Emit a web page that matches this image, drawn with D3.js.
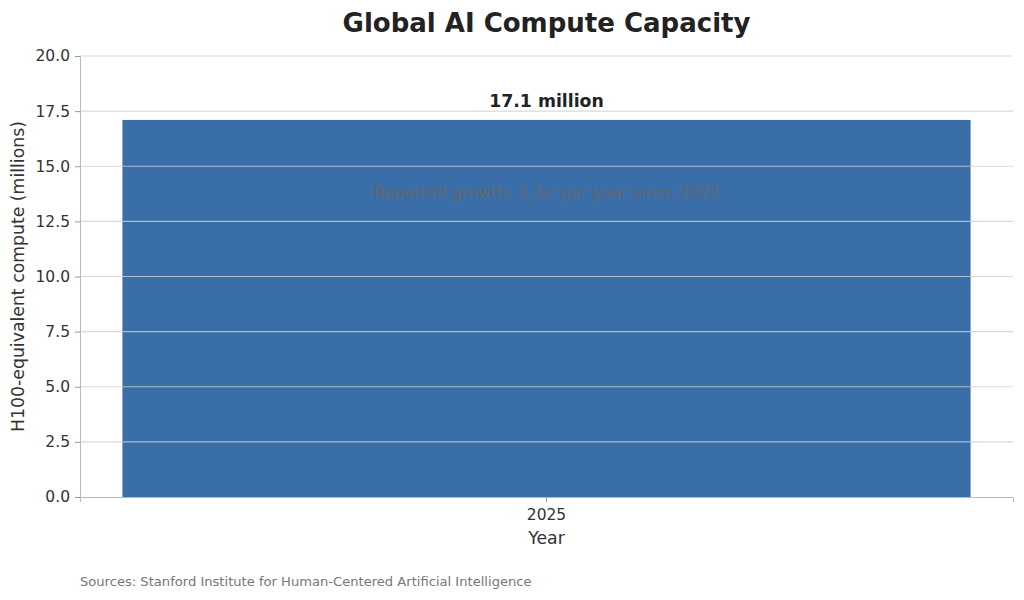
<!DOCTYPE html>
<html>
<head>
<meta charset="utf-8">
<script src="https://cdn.jsdelivr.net/npm/d3@7"></script>
<style>
  body { margin: 0; background: #fff; }
  text { font-family: "DejaVu Sans", sans-serif; }
</style>
</head>
<body>
<svg id="chart" width="1024" height="600"></svg>
<script>
// data
const years = ["2025"];
const computeMillions = [17.1];
const valueLabels = ["17.1 million"];
const yTicks = [0, 2.5, 5, 7.5, 10, 12.5, 15, 17.5, 20];
const note = "Reported growth: 3.3\u00d7 per year since 2022";

const svg = d3.select("#chart");
const margin = {top: 56, right: 11, bottom: 103, left: 80};
const width = 1024 - margin.left - margin.right;
const height = 600 - margin.top - margin.bottom;

const g = svg.append("g").attr("transform", `translate(${margin.left},${margin.top})`);

// scales
const x = d3.scaleBand().domain(years).range([0, width]).paddingInner(0).paddingOuter(0.05);
const y = d3.scaleLinear().domain([0, 20]).range([height, 0]);

// bars
g.selectAll("rect.bar")
  .data(years)
  .enter()
  .append("rect")
  .attr("class", "bar")
  .attr("x", d => x(d))
  .attr("width", x.bandwidth())
  .attr("y", (d, i) => y(computeMillions[i]))
  .attr("height", (d, i) => height - y(computeMillions[i]))
  .attr("fill", "#3a6ea8");

// gridlines on top of the bar
g.selectAll("line.grid")
  .data(yTicks.slice(1))
  .enter()
  .append("line")
  .attr("class", "grid")
  .attr("x1", 0)
  .attr("x2", width)
  .attr("y1", d => y(d))
  .attr("y2", d => y(d))
  .attr("stroke", "#d0d0d0")
  .attr("stroke-opacity", 0.8)
  .attr("stroke-width", 1.2);

// y axis
const yAxis = g.append("g")
  .call(d3.axisLeft(y).tickValues(yTicks).tickFormat(d3.format(".1f")).tickSizeOuter(0).tickSize(5));
yAxis.select(".domain").attr("stroke", "#bbbbbb");
yAxis.selectAll(".tick line").attr("stroke", "#999999");
yAxis.selectAll(".tick text").attr("font-size", 15.5).attr("fill", "#333").attr("dx", "-2");

// x axis
const xAxis = g.append("g")
  .attr("transform", `translate(0,${height})`)
  .call(d3.axisBottom(x).tickSizeOuter(0).tickSize(5));
xAxis.select(".domain").attr("stroke", "#bbbbbb");
xAxis.selectAll(".tick line").attr("stroke", "#999999");
xAxis.selectAll(".tick text").attr("font-size", 15.5).attr("fill", "#333").attr("dy", "0.95em");

// value labels
g.selectAll("text.value")
  .data(years)
  .enter()
  .append("text")
  .attr("class", "value")
  .attr("x", d => x(d) + x.bandwidth() / 2)
  .attr("y", (d, i) => y(computeMillions[i]) - 13)
  .attr("text-anchor", "middle")
  .attr("font-size", 17.3)
  .attr("font-weight", "bold")
  .attr("fill", "#222")
  .text((d, i) => valueLabels[i]);

// note inside bar
g.append("text")
  .attr("x", x(years[0]) + x.bandwidth() / 2)
  .attr("y", y(13.8))
  .attr("dy", "0.35em")
  .attr("text-anchor", "middle")
  .attr("font-size", 15.9)
  .attr("fill", "#666")
  .text(note);

// title
svg.append("text")
  .attr("x", margin.left + width / 2)
  .attr("y", 32)
  .attr("text-anchor", "middle")
  .attr("font-size", 26)
  .attr("font-weight", "bold")
  .attr("fill", "#222")
  .text("Global AI Compute Capacity");

// axis titles
svg.append("text")
  .attr("x", margin.left + width / 2)
  .attr("y", 544)
  .attr("text-anchor", "middle")
  .attr("font-size", 17.3)
  .attr("fill", "#333")
  .text("Year");

svg.append("text")
  .attr("transform", `translate(24,${margin.top + height / 2}) rotate(-90)`)
  .attr("text-anchor", "middle")
  .attr("font-size", 17.3)
  .attr("fill", "#333")
  .text("H100-equivalent compute (millions)");

// source
svg.append("text")
  .attr("x", 80)
  .attr("y", 586)
  .attr("font-size", 13.1)
  .attr("fill", "#777")
  .text("Sources: Stanford Institute for Human-Centered Artificial Intelligence");
</script>
</body>
</html>
